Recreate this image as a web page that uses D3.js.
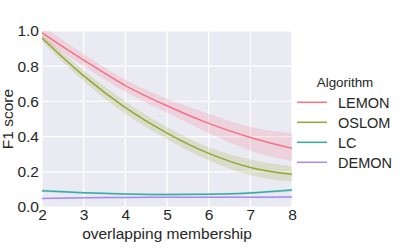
<!DOCTYPE html>
<html>
<head>
<meta charset="utf-8">
<script src="https://cdn.jsdelivr.net/npm/d3@7"></script>
<style>
  body { margin: 0; background: #fff; }
  svg text { font-family: "Liberation Sans", Arial, sans-serif; fill: #262626; }
</style>
</head>
<body>
<div id="chart"></div>
<script>
// overlapping membership vs F1 score, mean line with confidence band
var xValues = [2, 3, 4, 5, 6, 7, 8];
var algorithms = ['LEMON', 'OSLOM', 'LC', 'DEMON'];
var colors = ['#f77189', '#97a431', '#36ada4', '#a48cf4'];

var lemonMean = [0.99, 0.835, 0.69, 0.575, 0.475, 0.395, 0.333];
var lemonLow = [0.955, 0.80, 0.655, 0.535, 0.42, 0.32, 0.26];
var lemonHigh = [1.03, 0.87, 0.725, 0.615, 0.53, 0.455, 0.42];

var oslomMean = [0.96, 0.745, 0.565, 0.42, 0.305, 0.225, 0.186];
var oslomLow = [0.94, 0.715, 0.53, 0.385, 0.265, 0.18, 0.145];
var oslomHigh = [0.98, 0.775, 0.60, 0.455, 0.34, 0.27, 0.23];

var lcMean = [0.092, 0.081, 0.074, 0.071, 0.073, 0.08, 0.096];
var lcLow = [0.085, 0.075, 0.069, 0.066, 0.068, 0.074, 0.088];
var lcHigh = [0.099, 0.087, 0.079, 0.076, 0.078, 0.086, 0.104];

var demonMean = [0.048, 0.052, 0.054, 0.055, 0.056, 0.056, 0.057];
var demonLow = [0.045, 0.049, 0.051, 0.052, 0.053, 0.053, 0.053];
var demonHigh = [0.051, 0.055, 0.057, 0.058, 0.059, 0.059, 0.061];

var xTicks = [2, 3, 4, 5, 6, 7, 8];
var yTicks = [0, 0.2, 0.4, 0.6, 0.8, 1.0];

var series = [
    { name: 'LEMON', mean: lemonMean, low: lemonLow, high: lemonHigh },
    { name: 'OSLOM', mean: oslomMean, low: oslomLow, high: oslomHigh },
    { name: 'LC', mean: lcMean, low: lcLow, high: lcHigh },
    { name: 'DEMON', mean: demonMean, low: demonLow, high: demonHigh }
];

var width = 403, height = 248;
var margin = { top: 31, right: 111, bottom: 41, left: 42 };
var plotW = width - margin.left - margin.right;
var plotH = height - margin.top - margin.bottom;

var svg = d3.select('#chart').append('svg').attr('width', width).attr('height', height);
var g = svg.append('g').attr('transform', 'translate(' + margin.left + ',' + margin.top + ')');

var x = d3.scaleLinear().domain([2, 8]).range([0, plotW]);
var y = d3.scaleLinear().domain([0, 1]).range([plotH, 0]);
var color = d3.scaleOrdinal().domain(algorithms).range(colors);

g.append('clipPath').attr('id', 'clip').append('rect').attr('width', plotW).attr('height', plotH);
g.append('rect').attr('width', plotW).attr('height', plotH).attr('fill', '#eaeaf2');

// grid
g.append('g').selectAll('line').data(xTicks).enter().append('line')
    .attr('x1', function(d) { return x(d); }).attr('x2', function(d) { return x(d); })
    .attr('y1', 0).attr('y2', plotH).attr('stroke', '#fff').attr('stroke-width', 1.2);
g.append('g').selectAll('line').data(yTicks).enter().append('line')
    .attr('y1', function(d) { return y(d); }).attr('y2', function(d) { return y(d); })
    .attr('x1', 0).attr('x2', plotW).attr('stroke', '#fff').attr('stroke-width', 1.2);

var area = d3.area().curve(d3.curveMonotoneX)
    .x(function(d, i) { return x(xValues[i]); })
    .y0(function(d) { return y(d[0]); })
    .y1(function(d) { return y(d[1]); });
var line = d3.line().curve(d3.curveMonotoneX)
    .x(function(d, i) { return x(xValues[i]); })
    .y(function(d) { return y(d); });

var marks = g.append('g').attr('clip-path', 'url(#clip)');
series.forEach(function(s) {
    var band = s.low.map(function(v, i) { return [v, s.high[i]]; });
    marks.append('path').datum(band).attr('d', area)
        .attr('fill', color(s.name)).attr('fill-opacity', 0.2);
});
series.forEach(function(s) {
    marks.append('path').datum(s.mean).attr('d', line)
        .attr('fill', 'none').attr('stroke', color(s.name)).attr('stroke-width', 1.5);
});

// axes
var xAxis = g.append('g').attr('transform', 'translate(0,' + plotH + ')')
    .call(d3.axisBottom(x).tickValues(xTicks).tickFormat(d3.format('d')).tickSize(0).tickPadding(2));
xAxis.select('.domain').remove();
xAxis.selectAll('text').attr('font-size', 15.5).attr('fill', '#262626');

var yAxis = g.append('g')
    .call(d3.axisLeft(y).tickValues(yTicks).tickFormat(d3.format('.1f')).tickSize(0).tickPadding(3));
yAxis.select('.domain').remove();
yAxis.selectAll('text').attr('font-size', 15.5).attr('fill', '#262626');

svg.append('text').attr('x', margin.left + plotW / 2).attr('y', 238.5)
    .attr('text-anchor', 'middle').attr('font-size', 15.5).text('overlapping membership');
svg.append('text').attr('transform', 'translate(13,' + (margin.top + plotH / 2) + ') rotate(-90)')
    .attr('text-anchor', 'middle').attr('font-size', 15.5).text('F1 score');

// legend
var legend = svg.append('g');
legend.append('text').attr('x', 345).attr('y', 87).attr('text-anchor', 'middle')
    .attr('font-size', 13.4).text('Algorithm');
var items = legend.selectAll('.item').data(algorithms).enter().append('g')
    .attr('transform', function(d, i) { return 'translate(0,' + (102.3 + i * 20) + ')'; });
items.append('line').attr('x1', 297).attr('x2', 327).attr('y1', 0).attr('y2', 0)
    .attr('stroke', function(d) { return color(d); }).attr('stroke-width', 1.5);
items.append('text').attr('x', 338).attr('y', 5.2).attr('font-size', 14.5)
    .text(function(d) { return d; });
</script>
</body>
</html>
